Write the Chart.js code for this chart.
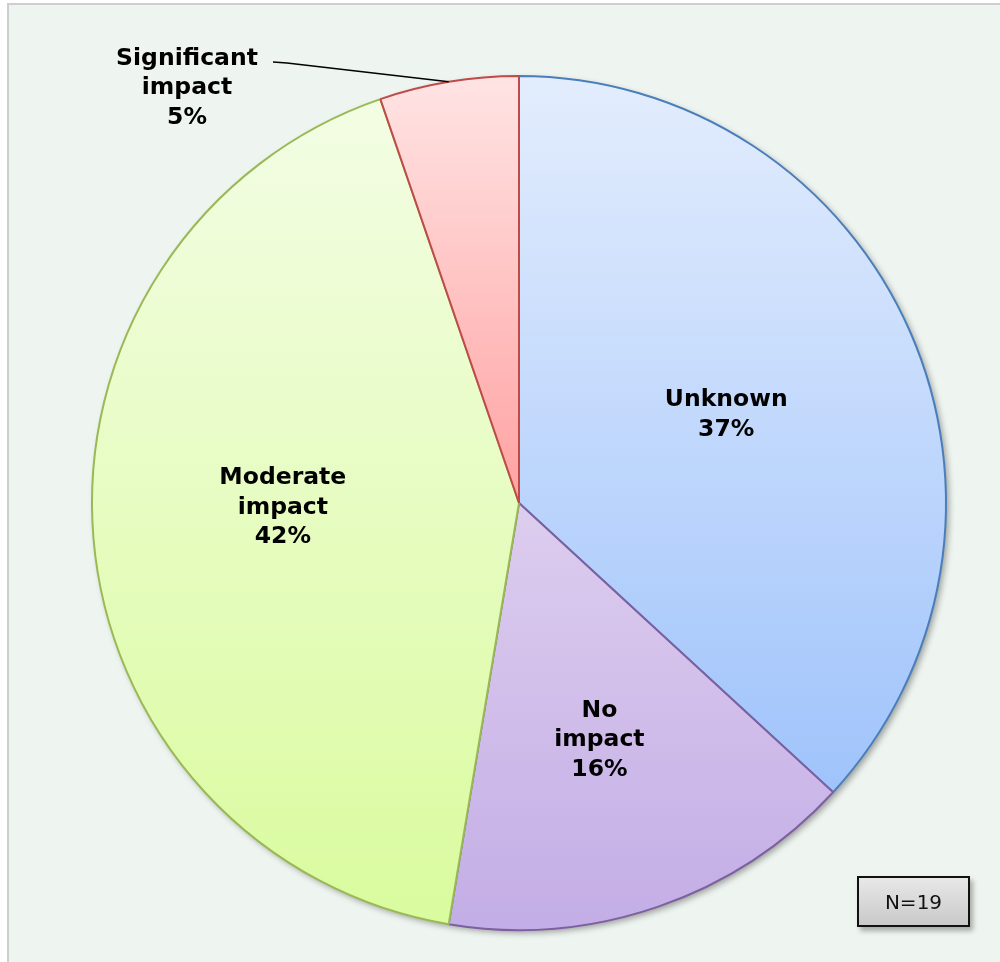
<!DOCTYPE html>
<html>
<head>
<meta charset="utf-8">
<title>Impact</title>
<script src="https://cdn.jsdelivr.net/npm/chart.js@4/dist/chart.umd.min.js"></script>
<style>
  html, body { margin: 0; padding: 0; background: #fff; }
  body { width: 1000px; height: 962px; position: relative; overflow: hidden; }
  .panel {
    position: absolute; left: 7px; top: 3px; width: 1010px; height: 980px;
    background: #eef4f0; border: 2px solid #cdcecd; box-sizing: border-box;
  }
  .wrap { position: absolute; left: 0; top: 0; width: 1000px; height: 962px; }
  .n-box {
    position: absolute; left: 857px; top: 876px; width: 113px; height: 51px;
    box-sizing: border-box; border: 2px solid #111;
    background: linear-gradient(#e8e8e8, #c9c9c9);
    box-shadow: 3px 4px 5px rgba(0, 0, 0, 0.3);
    font: 20px "DejaVu Sans", sans-serif; color: #111;
    display: flex; align-items: center; justify-content: center;
  }
</style>
</head>
<body>
<div class="panel"></div>
<div class="wrap"><canvas id="pie" width="1000" height="962"></canvas></div>
<div class="n-box">N=19</div>

<script>
/* ── Data ─────────────────────────────────────────────── */

const categories = ['Unknown', 'No impact', 'Moderate impact', 'Significant impact'];
const responses = [7, 3, 8, 1];

/* ── Look ─────────────────────────────────────────────── */

// vertical gradient per slice: [top, bottom]
const sliceFills = [
  ['#e3edfd', '#9fc3fb'],
  ['#ddcdee', '#c3ade6'],
  ['#f3fde4', '#dafb9e'],
  ['#ffe4e4', '#ffa2a2'],
];
const sliceBorders = ['#4a7ebb', '#7d60a0', '#98b954', '#be4b48'];

// label placement: fraction of radius along the mid angle, plus nudge
const labelRadius = [0.53, 0.58, 0.555, null];
const labelNudge = [[0, 3], [0, 3], [0, -15], [0, 3]];

const LABEL_FONT = 'bold 23.5px "DejaVu Sans", Verdana, sans-serif';
const LINE_H = 29.5;

/* ── Helpers ──────────────────────────────────────────── */

function total() {
  return responses.reduce((a, b) => a + b, 0);
}

// vertical extent of slice i, worked out from the chart area
function sliceYRange(area, i) {
  const cx = (area.left + area.right) / 2;
  const cy = (area.top + area.bottom) / 2;
  const r = Math.min(area.width, area.height) / 2;
  const sum = total();
  let acc = 0;
  for (let k = 0; k < i; k++) acc += responses[k];
  const a0 = -Math.PI / 2 + (acc / sum) * Math.PI * 2;
  const a1 = a0 + (responses[i] / sum) * Math.PI * 2;
  const ys = [cy, cy + r * Math.sin(a0), cy + r * Math.sin(a1)];
  const crosses = (a) => {
    for (let t = a; t < a1 + 7; t += Math.PI * 2) if (t >= a0 && t <= a1) return true;
    for (let t = a - Math.PI * 2; t <= a1; t += Math.PI * 2) if (t >= a0 && t <= a1) return true;
    return false;
  };
  if (crosses(Math.PI / 2)) ys.push(cy + r);
  if (crosses(-Math.PI / 2)) ys.push(cy - r);
  return [Math.min(...ys), Math.max(...ys), cx];
}

function sliceGradient(ctx) {
  const chart = ctx.chart;
  const area = chart.chartArea;
  const i = ctx.dataIndex;
  if (!area) return sliceFills[i][1];
  const [y0, y1] = sliceYRange(area, i);
  const g = chart.ctx.createLinearGradient(0, y0, 0, y1);
  g.addColorStop(0, sliceFills[i][0]);
  g.addColorStop(1, sliceFills[i][1]);
  return g;
}

function labelLines(i) {
  const pct = Math.round((responses[i] / total()) * 100) + '%';
  return categories[i].split(' ').concat(pct);
}

function drawLines(c, lines, x, yMid) {
  const y0 = yMid - ((lines.length - 1) * LINE_H) / 2;
  lines.forEach((t, k) => c.fillText(t, x, y0 + k * LINE_H));
}

/* ── Plugins ──────────────────────────────────────────── */

const pieShadow = {
  id: 'pieShadow',
  beforeDatasetsDraw(chart) {
    const arc = chart.getDatasetMeta(0).data[0];
    if (!arc) return;
    const c = chart.ctx;
    c.save();
    c.shadowColor = 'rgba(0, 0, 0, 0.35)';
    c.shadowBlur = 6;
    c.shadowOffsetX = 3;
    c.shadowOffsetY = 3;
    c.fillStyle = '#eef4f0';
    c.beginPath();
    c.arc(arc.x, arc.y, arc.outerRadius, 0, Math.PI * 2);
    c.fill();
    c.restore();
  },
};

const sliceLabels = {
  id: 'sliceLabels',
  afterDatasetsDraw(chart) {
    const c = chart.ctx;
    const arcs = chart.getDatasetMeta(0).data;
    c.save();
    c.font = LABEL_FONT;
    c.fillStyle = '#000';
    c.textAlign = 'center';
    c.textBaseline = 'middle';

    arcs.forEach((arc, i) => {
      const mid = (arc.startAngle + arc.endAngle) / 2;
      const lines = labelLines(i);

      if (labelRadius[i] != null) {
        const d = arc.outerRadius * labelRadius[i];
        const x = arc.x + Math.cos(mid) * d + labelNudge[i][0];
        const y = arc.y + Math.sin(mid) * d + labelNudge[i][1];
        drawLines(c, lines, x, y);
        return;
      }

      // small slice: label sits outside, with a leader line to the rim
      const ex = arc.x + Math.cos(mid) * arc.outerRadius;
      const ey = arc.y + Math.sin(mid) * arc.outerRadius;
      const tx = arc.x - 332 + labelNudge[i][0];
      const ty = arc.y - 418 + labelNudge[i][1];
      drawLines(c, lines, tx, ty);

      c.strokeStyle = '#000';
      c.lineWidth = 1.5;
      c.beginPath();
      c.moveTo(arc.x - 246, arc.y - 441);
      c.lineTo(arc.x - 232, arc.y - 440);
      c.lineTo(ex, ey);
      c.stroke();
    });
    c.restore();
  },
};

/* ── Chart ────────────────────────────────────────────── */

new Chart(document.getElementById('pie'), {
  type: 'pie',
  data: {
    labels: categories,
    datasets: [{
      data: responses,
      backgroundColor: sliceGradient,
      borderColor: sliceBorders,
      borderWidth: 2,
    }],
  },
  options: {
    responsive: false,
    animation: false,
    events: [],
    layout: { padding: { left: 91, right: 53, top: 75, bottom: 31 } },
    plugins: {
      legend: { display: false },
      tooltip: { enabled: false },
    },
  },
  plugins: [pieShadow, sliceLabels],
});
</script>
</body>
</html>
